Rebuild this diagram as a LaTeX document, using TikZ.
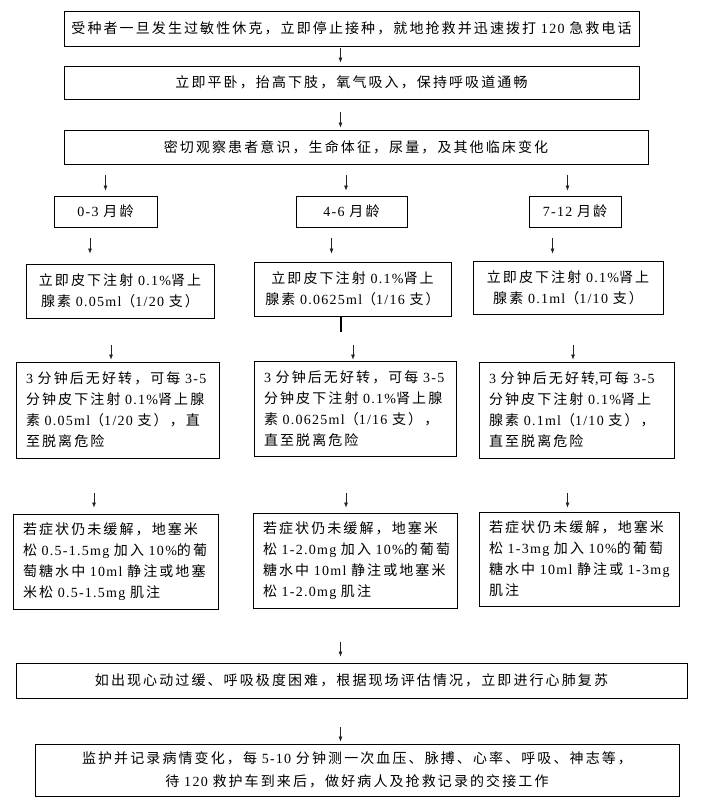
\documentclass[tikz,border=0pt]{standalone}
\usepackage{fontspec}
\setmainfont[LetterSpace=9]{Liberation Serif}
\newfontfamily\cjkfont[LetterSpace=15]{Noto Sans CJK SC}
\usetikzlibrary{arrows.meta}
\definecolor{flowInk}{HTML}{222222}
% switch to the CJK face for Chinese characters and back for digits
\XeTeXinterchartokenstate=1
\newXeTeXintercharclass\cjkclass
\newcount\cjkcode
\def\cjkrange#1#2{\cjkcode=#1\relax
  \loop\XeTeXcharclass\cjkcode=\cjkclass
  \ifnum\cjkcode<#2\advance\cjkcode by 1\repeat}
\cjkrange{"4E00}{"9FFF}
\cjkrange{"3000}{"303F}
\cjkrange{"FF00}{"FFEF}
\XeTeXinterchartoks 0 \cjkclass = {\cjkfont}
\XeTeXinterchartoks 4095 \cjkclass = {\cjkfont}
\XeTeXinterchartoks \cjkclass 0 = {\rmfamily}
\XeTeXinterchartoks \cjkclass 4095 = {\rmfamily}
% keep each written line on one line
\exhyphenpenalty=10000
\hyphenpenalty=10000
\hbadness=10000
\hfuzz=30pt

\begin{document}
\begin{tikzpicture}[x=1pt,y=-1pt,>=Latex,
  box/.style={draw=black,line width=0.9pt,inner sep=0pt,align=center,font=\fontsize{14}{21}\selectfont},
  textbox/.style={box,align=left,inner xsep=10pt},
  flow/.style={->,draw=flowInk,line width=0.6pt,>={Latex[length=5pt,width=4pt]}}]
\useasboundingbox (0,0) rectangle (701,802);
% top of the chart
\node[box,minimum width=575pt,minimum height=35pt] (shock) at (351.5,28.5) {受种者一旦发生过敏性休克，立即停止接种，就地抢救并迅速拨打 120 急救电话};
\node[box,minimum width=575pt,minimum height=33pt] (care) at (351.5,82.5) {立即平卧，抬高下肢，氧气吸入，保持呼吸道通畅};
\node[box,minimum width=584pt,minimum height=34pt] (observe) at (356,147) {密切观察患者意识，生命体征，尿量，及其他临床变化};
% age groups
\node[box,minimum width=103pt,minimum height=31pt] (age1) at (105.5,211.5) {0-3 月龄};
\node[box,minimum width=111pt,minimum height=31pt] (age2) at (351.5,211.5) {4-6 月龄};
\node[box,minimum width=92pt,minimum height=31pt] (age3) at (575,211.5) {7-12 月龄};
% first injection
\node[box,minimum width=188pt,minimum height=54pt] (inj1) at (120,291) {立即皮下注射 0.1\%肾上\\腺素 0.05ml（1/20 支）};
\node[box,minimum width=197pt,minimum height=54pt] (inj2) at (352.5,289) {立即皮下注射 0.1\%肾上\\腺素 0.0625ml（1/16 支）};
\node[box,minimum width=190pt,minimum height=53pt] (inj3) at (568,287.5) {立即皮下注射 0.1\%肾上\\腺素 0.1ml（1/10 支）};
% repeated injection
\node[textbox,text width=183pt,minimum height=96pt] (rep1) at (117.5,410) {3~分钟后无好转，可每~3-5\\分钟皮下注射~0.1\%肾上腺\\素~0.05ml（1/20~支），直\\至脱离危险};
\node[textbox,text width=182pt,minimum height=95pt] (rep2) at (355,408.5) {3~分钟后无好转，可每~3-5\\分钟皮下注射~0.1\%肾上腺\\素~0.0625ml（1/16~支），\\直至脱离危险};
\node[textbox,text width=175pt,minimum height=96pt] (rep3) at (576.5,410) {3~分钟后无好转,可每~3-5\\分钟皮下注射~0.1\%肾上\\腺素~0.1ml（1/10~支），\\直至脱离危险};
% dexamethasone
\node[textbox,text width=185pt,minimum height=95pt] (dex1) at (115.5,561.5) {若症状仍未缓解，地塞米\\松~0.5-1.5mg~加入~10\%的葡\\萄糖水中~10ml~静注或地塞\\米松~0.5-1.5mg~肌注};
\node[textbox,text width=184pt,minimum height=95pt] (dex2) at (355,560.5) {若症状仍未缓解，地塞米\\松~1-2.0mg~加入~10\%的葡萄\\糖水中~10ml~静注或地塞米\\松~1-2.0mg~肌注};
\node[textbox,text width=180pt,minimum height=94pt] (dex3) at (579,559) {若症状仍未缓解，地塞米\\松~1-3mg~加入~10\%的葡萄\\糖水中~10ml~静注或~1-3mg\\肌注};
% bottom of the chart
\node[box,minimum width=671pt,minimum height=35pt] (cpr) at (351.5,680.5) {如出现心动过缓、呼吸极度困难，根据现场评估情况，立即进行心肺复苏};
\node[box,font=\fontsize{14}{23}\selectfont,minimum width=644pt,minimum height=52pt] (monitor) at (357,770) {监护并记录病情变化，每 5-10 分钟测一次血压、脉搏、心率、呼吸、神志等，\\待 120 救护车到来后，做好病人及抢救记录的交接工作};
% arrows
\foreach \x/\y/\to/\gap in {340.5/48/care/3,340.5/112/observe/2,
  105.5/175/age1/5,346/175/age2/5,567.5/175/age3/5,
  90/238/inj1/10,331.5/238/inj2/8,552.5/238/inj3/7,
  111/345/rep1/2,353/345/rep2/1,573/345/rep3/2,
  94/493/dex1/6,346/493/dex2/5,567.5/493/dex3/4,
  340.5/642/cpr/6,340.5/727/monitor/2}{
  \coordinate (s\to) at (\x,\y);
  \draw[flow,shorten >=\gap pt] (s\to) -- (s\to |- \to.north);
}
\coordinate (stub) at (341,332);
\draw[line width=1.8pt] (stub |- inj2.south) -- (stub);
\end{tikzpicture}
\end{document}
